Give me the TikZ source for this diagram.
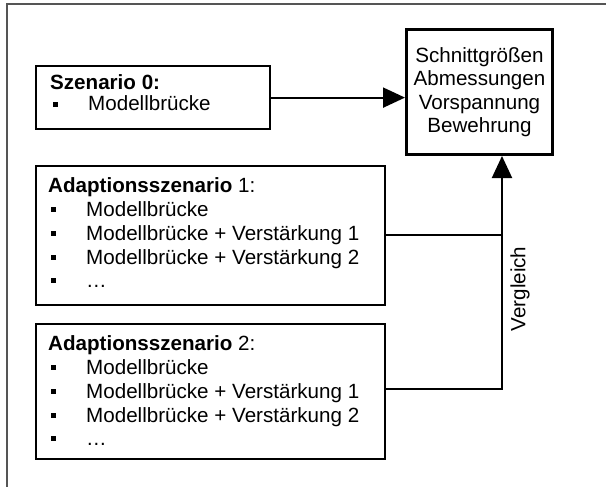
\documentclass[tikz,border=0pt]{standalone}
\usepackage{fontspec}
\setmainfont{Liberation Sans}
\usetikzlibrary{arrows.meta}
\definecolor{framegray}{RGB}{85,85,85}
\newcommand{\sqbullet}{\raisebox{4.5pt}{\rule{4.5pt}{4.5pt}}}
\begin{document}
\begin{tikzpicture}[x=1pt,y=-1pt,
  txt/.style={inner sep=0pt,anchor=base west,font=\fontsize{20.6}{24}\selectfont},
  bul/.style={inner sep=0pt,anchor=base west,font=\fontsize{20.6}{24}\selectfont},
  listbox/.style={draw,line width=2.2pt,anchor=north west,inner sep=0pt},
  result/.style={draw,line width=3pt,anchor=north west,inner sep=0pt,align=center,
    font=\fontsize{20.6}{23.5}\selectfont},
  link/.style={line width=2pt},
  tip/.style={-{Triangle[length=22pt,width=20pt]}}
]
\useasboundingbox (0,0) rectangle (606,487);
% outer frame, only its top and left edges are drawn
\coordinate (fbl) at (7,487);
\coordinate (ftl) at (7,4.5);
\coordinate (ftr) at (606,4.5);
\draw[framegray,line width=2pt] (fbl) -- (ftl) -- (ftr);

% boxes
\node[listbox,minimum width=234pt,minimum height=63pt] (s0) at (35,65) {};
\node[listbox,minimum width=349pt,minimum height=139pt] (a1) at (35,165) {};
\node[listbox,minimum width=349pt,minimum height=135pt] (a2) at (35,323) {};
\node[result,minimum width=146pt,minimum height=125pt] (res) at (405,28)
  {Schnittgrößen\\Abmessungen\\Vorspannung\\Bewehrung};

% Szenario 0
\node[txt] (s0t) at (50,90) {\textbf{Szenario 0:}};
\node[bul] (s0b) at (53,111) {\sqbullet};
\node[txt] (s0i) at (88,111) {Modellbrücke};

% Adaptionsszenario 1
\node[txt] (a1t) at (48,192) {\textbf{Adaptionsszenario} 1:};
\foreach \y/\t [count=\i] in {216/Modellbrücke,240/Modellbrücke + Verstärkung 1,264/Modellbrücke + Verstärkung 2,287/\dots}{
  \node[bul] (a1b\i) at (51,\y) {\sqbullet};
  \node[txt] (a1i\i) at (86,\y) {\t};
}

% Adaptionsszenario 2
\node[txt] (a2t) at (48,350) {\textbf{Adaptionsszenario} 2:};
\foreach \y/\t [count=\i] in {374/Modellbrücke,398/Modellbrücke + Verstärkung 1,422/Modellbrücke + Verstärkung 2,445/\dots}{
  \node[bul] (a2b\i) at (51,\y) {\sqbullet};
  \node[txt] (a2i\i) at (86,\y) {\t};
}

% connectors
\coordinate (j1) at (502,235);
\coordinate (j2) at (502,389);
\draw[link,tip] (s0.east) -- (s0.east -| res.west);
\draw[link] (a1.east |- j1) -- (j1);
\draw[link,tip] (a2.east |- j2) -- (j2) -- (j2 |- res.south);
\node[rotate=90,inner sep=0pt,font=\fontsize{20.6}{24}\selectfont] (cmp) at (520,289) {Vergleich};
\end{tikzpicture}
\end{document}
